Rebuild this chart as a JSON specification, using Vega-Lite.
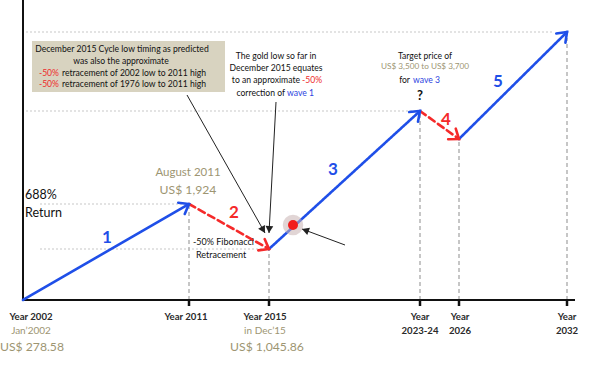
{
  "$schema": "https://vega.github.io/schema/vega-lite/v6.json",
  "width": 600,
  "height": 387,
  "padding": 0,
  "autosize": "none",
  "background": "white",
  "config": {"view": {"stroke": null}, "text": {"font": "Lato"}},
  "datasets": {
    "waves": [
      {"wave": "1", "kind": "impulse", "t": 0, "level": 0, "t2": 166, "level2": 96, "ang": 330},
      {"wave": "2", "kind": "correction", "t": 166, "level": 96, "t2": 246, "level2": 51, "ang": 29.4},
      {"wave": "3", "kind": "impulse", "t": 246, "level": 51, "t2": 397, "level2": 189, "ang": 317.6},
      {"wave": "4", "kind": "correction", "t": 397, "level": 189, "t2": 436, "level2": 161, "ang": 35.7},
      {"wave": "5", "kind": "impulse", "t": 436, "level": 161, "t2": 544, "level2": 268, "ang": 315.3}
    ],
    "hgrid": [
      {"t": 3, "t2": 529, "level": 268},
      {"t": 3, "t2": 394, "level": 189},
      {"t": 17, "t2": 163, "level": 96},
      {"t": 17, "t2": 243, "level": 51}
    ],
    "vgrid": [
      {"t": 166, "level": 0, "level2": 96},
      {"t": 246, "level": 0, "level2": 51},
      {"t": 397, "level": 0, "level2": 189},
      {"t": 436, "level": 0, "level2": 161},
      {"t": 544, "level": 0, "level2": 262}
    ],
    "axes": [
      {"t": 0, "level": 0, "t2": 0, "level2": 300},
      {"t": 0, "level": 0, "t2": 552, "level2": 0}
    ],
    "ticks": [
      {"t": 166, "level": 0, "level2": -6},
      {"t": 246, "level": 0, "level2": -6},
      {"t": 397, "level": 0, "level2": -6},
      {"t": 436, "level": 0, "level2": -6},
      {"t": 544, "level": 0, "level2": -6}
    ],
    "pointers": [
      {"t": 164, "level": 205, "t2": 242, "level2": 67, "ang": 60.5},
      {"t": 253, "level": 198, "t2": 246, "level2": 67, "ang": 93.1},
      {"t": 322, "level": 55, "t2": 279, "level2": 71, "ang": 200.4}
    ],
    "box": [{"t": 9, "t2": 202, "level": 259, "level2": 208}],
    "dot": [{"t": 270, "level": 75}],
    "texts": [
      {"style": "cblack", "t": 99, "level": 251, "label": "December 2015 Cycle low timing as predicted"},
      {"style": "cblack", "t": 98, "level": 239, "label": "was also the approximate"},
      {"style": "rred", "t": 36, "level": 227, "label": "-50%"},
      {"style": "lblack", "t": 39, "level": 227, "label": "retracement of 2002 low to 2011 high"},
      {"style": "rred", "t": 36, "level": 216, "label": "-50%"},
      {"style": "lblack", "t": 39, "level": 216, "label": "retracement of 1976 low to 2011 high"},
      {"style": "cblack", "t": 253, "level": 244, "label": "The gold low so far in"},
      {"style": "cblack", "t": 253, "level": 232, "label": "December 2015 equates"},
      {"style": "rblack", "t": 277, "level": 220, "label": "to an approximate"},
      {"style": "lred", "t": 279, "level": 220, "label": "-50%"},
      {"style": "rblack", "t": 262, "level": 207, "label": "correction of"},
      {"style": "lblue", "t": 264, "level": 207, "label": "wave 1"},
      {"style": "cblack", "t": 402, "level": 244, "label": "Target price of"},
      {"style": "colivesmall", "t": 402, "level": 233, "label": "US$ 3,500 to US$ 3,700"},
      {"style": "rblack", "t": 387, "level": 220, "label": "for"},
      {"style": "lblue", "t": 390, "level": 220, "label": "wave 3"},
      {"style": "q", "t": 397, "level": 204, "label": "?"},
      {"style": "colive12", "t": 165, "level": 127, "label": "August 2011"},
      {"style": "colivebig", "t": 165, "level": 110, "label": "US$ 1,924"},
      {"style": "left13", "t": 2, "level": 105, "label": "688%"},
      {"style": "left13", "t": 2, "level": 87, "label": "Return"},
      {"style": "lsmall", "t": 170, "level": 58, "label": "-50% Fibonacci"},
      {"style": "lsmall", "t": 173, "level": 45, "label": "Retracement"},
      {"style": "year", "t": 8, "level": -17, "label": "Year 2002"},
      {"style": "colive", "t": 8, "level": -31, "label": "Jan’2002"},
      {"style": "colivebig", "t": 9, "level": -47, "label": "US$ 278.58"},
      {"style": "year", "t": 163, "level": -17, "label": "Year 2011"},
      {"style": "year", "t": 242, "level": -17, "label": "Year 2015"},
      {"style": "colive", "t": 242, "level": -31, "label": "in Dec’15"},
      {"style": "colivebig", "t": 244, "level": -47, "label": "US$ 1,045.86"},
      {"style": "year", "t": 397, "level": -17, "label": "Year"},
      {"style": "year", "t": 397, "level": -31, "label": "2023-24"},
      {"style": "year", "t": 437, "level": -17, "label": "Year"},
      {"style": "year", "t": 437, "level": -31, "label": "2026"},
      {"style": "year", "t": 544, "level": -17, "label": "Year"},
      {"style": "year", "t": 544, "level": -31, "label": "2032"}
    ],
    "wavelabels": [
      {"kind": "impulse", "t": 84, "level": 62, "label": "1"},
      {"kind": "correction", "t": 211, "level": 87, "label": "2"},
      {"kind": "impulse", "t": 310, "level": 130, "label": "3"},
      {"kind": "correction", "t": 423, "level": 180, "label": "4"},
      {"kind": "impulse", "t": 475, "level": 218, "label": "5"}
    ]
  },
  "encoding": {
    "x": {"field": "t", "type": "quantitative", "scale": {"domain": [-23, 577], "nice": false, "zero": false}, "axis": null},
    "y": {"field": "level", "type": "quantitative", "scale": {"domain": [-87, 300], "nice": false, "zero": false}, "axis": null}
  },
  "layer": [
    {
      "data": {"name": "box"},
      "mark": {"type": "rect", "color": "#d8d3c0"},
      "encoding": {"x2": {"field": "t2"}, "y2": {"field": "level2"}}
    },
    {
      "data": {"name": "hgrid"},
      "mark": {"type": "rule", "color": "#c8c8c8", "strokeWidth": 1.2, "strokeDash": [2, 2]},
      "encoding": {"x2": {"field": "t2"}}
    },
    {
      "data": {"name": "vgrid"},
      "mark": {"type": "rule", "color": "#b4b4b4", "strokeWidth": 1.5, "strokeDash": [4, 3]},
      "encoding": {"y2": {"field": "level2"}}
    },
    {
      "data": {"name": "axes"},
      "mark": {"type": "rule", "color": "#111111", "strokeWidth": 2},
      "encoding": {"x2": {"field": "t2"}, "y2": {"field": "level2"}}
    },
    {
      "data": {"name": "ticks"},
      "mark": {"type": "rule", "color": "#111111", "strokeWidth": 2.5},
      "encoding": {"y2": {"field": "level2"}}
    },
    {
      "data": {"name": "waves"},
      "mark": {"type": "rule", "strokeWidth": 2.6, "strokeCap": "round"},
      "encoding": {
        "x2": {"field": "t2"},
        "y2": {"field": "level2"},
        "color": {"field": "kind", "type": "nominal", "scale": {"domain": ["impulse", "correction"], "range": ["#1f4fe8", "#f52a2a"]}, "legend": null},
        "strokeDash": {"field": "kind", "type": "nominal", "scale": {"domain": ["impulse", "correction"], "range": [[1, 0], [7, 4]]}, "legend": null}
      }
    },
    {
      "data": {"name": "waves"},
      "mark": {"type": "point", "shape": "M -1 -0.75 L 0 0 L -1 0.75", "filled": false, "strokeWidth": 2.6, "opacity": 1, "strokeCap": "round", "strokeJoin": "miter"},
      "encoding": {
        "x": {"field": "t2", "type": "quantitative"},
        "y": {"field": "level2", "type": "quantitative"},
        "angle": {"field": "ang", "type": "quantitative", "scale": null},
        "size": {"value": 300},
        "color": {"field": "kind", "type": "nominal", "legend": null}
      }
    },
    {
      "data": {"name": "pointers"},
      "mark": {"type": "rule", "color": "#222222", "strokeWidth": 1},
      "encoding": {"x2": {"field": "t2"}, "y2": {"field": "level2"}}
    },
    {
      "data": {"name": "pointers"},
      "mark": {"type": "point", "shape": "M 0 0 L -1 -0.55 L -1 0.55 Z", "filled": true, "color": "#222222", "opacity": 1},
      "encoding": {
        "x": {"field": "t2", "type": "quantitative"},
        "y": {"field": "level2", "type": "quantitative"},
        "angle": {"field": "ang", "type": "quantitative", "scale": null},
        "size": {"value": 200}
      }
    },
    {
      "data": {"name": "dot"},
      "mark": {"type": "circle", "color": "#c9b3b3", "opacity": 0.55, "size": 420}
    },
    {
      "data": {"name": "dot"},
      "mark": {"type": "circle", "color": "#f21c1c", "opacity": 1, "size": 100}
    },
    {
      "data": {"name": "texts"},
      "transform": [{"filter": "datum.style == 'cblack'"}],
      "mark": {"type": "text", "fontSize": 8.6, "color": "#111111", "align": "center", "baseline": "middle"},
      "encoding": {"text": {"field": "label"}}
    },
    {
      "data": {"name": "texts"},
      "transform": [{"filter": "datum.style == 'lblack'"}],
      "mark": {"type": "text", "fontSize": 8.6, "color": "#111111", "align": "left", "baseline": "middle"},
      "encoding": {"text": {"field": "label"}}
    },
    {
      "data": {"name": "texts"},
      "transform": [{"filter": "datum.style == 'rblack'"}],
      "mark": {"type": "text", "fontSize": 8.6, "color": "#111111", "align": "right", "baseline": "middle"},
      "encoding": {"text": {"field": "label"}}
    },
    {
      "data": {"name": "texts"},
      "transform": [{"filter": "datum.style == 'lred'"}],
      "mark": {"type": "text", "fontSize": 8.6, "color": "#ee2a2a", "align": "left", "baseline": "middle"},
      "encoding": {"text": {"field": "label"}}
    },
    {
      "data": {"name": "texts"},
      "transform": [{"filter": "datum.style == 'rred'"}],
      "mark": {"type": "text", "fontSize": 8.6, "color": "#ee2a2a", "align": "right", "baseline": "middle"},
      "encoding": {"text": {"field": "label"}}
    },
    {
      "data": {"name": "texts"},
      "transform": [{"filter": "datum.style == 'lblue'"}],
      "mark": {"type": "text", "fontSize": 8.6, "color": "#2b3fe0", "align": "left", "baseline": "middle"},
      "encoding": {"text": {"field": "label"}}
    },
    {
      "data": {"name": "texts"},
      "transform": [{"filter": "datum.style == 'lsmall'"}],
      "mark": {"type": "text", "fontSize": 9, "color": "#111111", "align": "left", "baseline": "middle"},
      "encoding": {"text": {"field": "label"}}
    },
    {
      "data": {"name": "texts"},
      "transform": [{"filter": "datum.style == 'colive'"}],
      "mark": {"type": "text", "fontSize": 10, "color": "#9d9572", "align": "center", "baseline": "middle"},
      "encoding": {"text": {"field": "label"}}
    },
    {
      "data": {"name": "texts"},
      "transform": [{"filter": "datum.style == 'colivesmall'"}],
      "mark": {"type": "text", "fontSize": 8.2, "color": "#9d9572", "align": "center", "baseline": "middle"},
      "encoding": {"text": {"field": "label"}}
    },
    {
      "data": {"name": "texts"},
      "transform": [{"filter": "datum.style == 'colive12'"}],
      "mark": {"type": "text", "fontSize": 11.5, "color": "#9d9572", "align": "center", "baseline": "middle"},
      "encoding": {"text": {"field": "label"}}
    },
    {
      "data": {"name": "texts"},
      "transform": [{"filter": "datum.style == 'colivebig'"}],
      "mark": {"type": "text", "fontSize": 12.2, "color": "#9d9572", "align": "center", "baseline": "middle"},
      "encoding": {"text": {"field": "label"}}
    },
    {
      "data": {"name": "texts"},
      "transform": [{"filter": "datum.style == 'left13'"}],
      "mark": {"type": "text", "fontSize": 12.5, "color": "#111111", "align": "left", "baseline": "middle"},
      "encoding": {"text": {"field": "label"}}
    },
    {
      "data": {"name": "texts"},
      "transform": [{"filter": "datum.style == 'year'"}],
      "mark": {"type": "text", "fontSize": 9.6, "fontWeight": "bold", "color": "#2a2a2a", "align": "center", "baseline": "middle"},
      "encoding": {"text": {"field": "label"}}
    },
    {
      "data": {"name": "texts"},
      "transform": [{"filter": "datum.style == 'q'"}],
      "mark": {"type": "text", "fontSize": 13, "fontWeight": "bold", "color": "#111111", "align": "center", "baseline": "middle"},
      "encoding": {"text": {"field": "label"}}
    },
    {
      "data": {"name": "wavelabels"},
      "mark": {"type": "text", "fontSize": 17, "fontWeight": "bold", "align": "center", "baseline": "middle"},
      "encoding": {
        "text": {"field": "label"},
        "color": {"field": "kind", "type": "nominal", "legend": null}
      }
    }
  ]
}
